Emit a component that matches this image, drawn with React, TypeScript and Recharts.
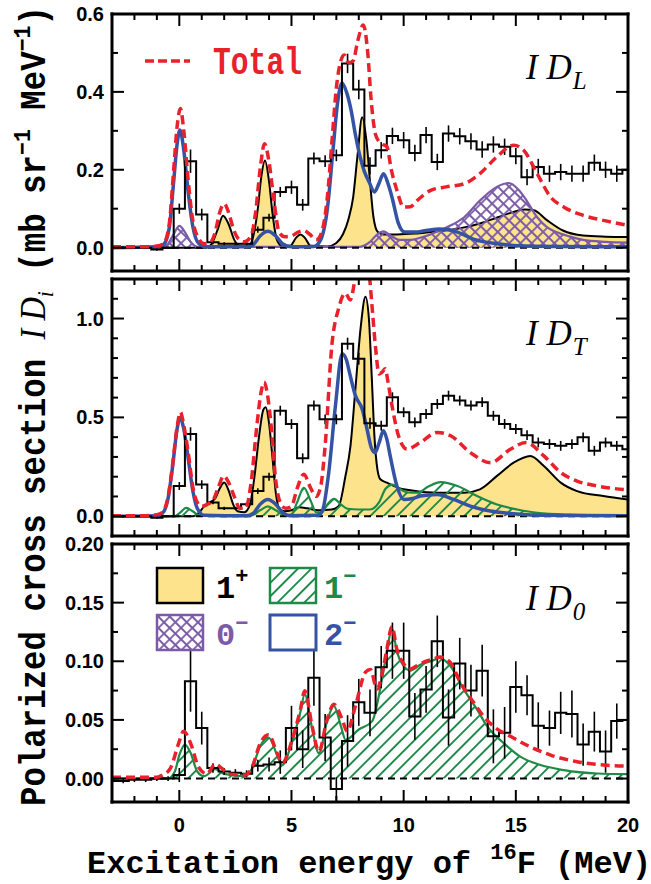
import React from 'react';
import { ComposedChart, Area, Line, XAxis, YAxis, ReferenceLine, ErrorBar } from 'recharts';

type Pair = [number, number];

// ---------- shared categories / ticks ----------
const binE = [-3, -2.5, -2, -1.5, -1, -0.5, 0, 0.5, 1, 1.5, 2, 2.5, 3, 3.5, 4, 4.5, 5, 5.5, 6, 6.5, 7, 7.5, 8, 8.5, 9, 9.5, 10, 10.5, 11, 11.5, 12, 12.5, 13, 13.5, 14, 14.5, 15, 15.5, 16, 16.5, 17, 17.5, 18, 18.5, 19, 19.5, 20];
const xTicks = [-3, -2, -1, 0, 1, 2, 3, 4, 5, 6, 7, 8, 9, 10, 11, 12, 13, 14, 15, 16, 17, 18, 19, 20];
const xMajor = [0, 5, 10, 15, 20];

const p1YTicks = [0, 0.1, 0.2, 0.3, 0.4, 0.5, 0.6];
const p1YMajor = [0, 0.2, 0.4, 0.6];
const p2YTicks = [0, 0.1, 0.2, 0.3, 0.4, 0.5, 0.6, 0.7, 0.8, 0.9, 1.0, 1.1, 1.2];
const p2YMajor = [0, 0.5, 1.0];
const p3YTicks = [0, 0.025, 0.05, 0.075, 0.1, 0.125, 0.15, 0.175, 0.2];
const p3YMajor = [0, 0.05, 0.1, 0.15, 0.2];

// ---------- panel 1 : ID_L ----------
const p1Hist = [0, 0, 0, 0, -0.005, 0, 0.10, 0.222, 0.085, 0.014, 0.01, 0.01, 0.01, 0.046, 0.077, 0.143, 0.155, 0.11, 0.229, 0.222, 0.237, 0.473, 0.406, 0.21, 0.25, 0.287, 0.276, 0.243, 0.289, 0.22, 0.293, 0.286, 0.273, 0.252, 0.265, 0.259, 0.235, 0.181, 0.207, 0.19, 0.194, 0.19, 0.19, 0.218, 0.2, 0.19, 0.2];
const p1Err = [0.003, 0.003, 0.003, 0.003, 0.003, 0.003, 0.013, 0.03, 0.015, 0.005, 0.004, 0.004, 0.004, 0.008, 0.01, 0.013, 0.017, 0.015, 0.015, 0.015, 0.015, 0.025, 0.025, 0.022, 0.021, 0.021, 0.021, 0.021, 0.021, 0.021, 0.021, 0.021, 0.021, 0.021, 0.021, 0.021, 0.021, 0.021, 0.021, 0.021, 0.021, 0.021, 0.021, 0.021, 0.021, 0.021, 0.021];
const p1Total: Pair[] = [[-3, 0.002], [-1.5, 0.002], [-1, 0.004], [-0.7, 0.01], [-0.45, 0.06], [-0.25, 0.2], [-0.1, 0.31], [0.05, 0.357], [0.2, 0.3], [0.4, 0.17], [0.6, 0.07], [0.85, 0.025], [1.1, 0.01], [1.4, 0.015], [1.6, 0.04], [1.8, 0.09], [2.0, 0.113], [2.2, 0.09], [2.4, 0.05], [2.6, 0.025], [2.9, 0.015], [3.2, 0.03], [3.4, 0.09], [3.6, 0.2], [3.8, 0.267], [4.0, 0.22], [4.2, 0.13], [4.45, 0.04], [4.7, 0.028], [5.0, 0.03], [5.3, 0.04], [5.55, 0.044], [5.8, 0.035], [6.1, 0.02], [6.35, 0.04], [6.6, 0.13], [6.8, 0.27], [7.0, 0.41], [7.2, 0.48], [7.35, 0.495], [7.55, 0.475], [7.75, 0.48], [7.95, 0.53], [8.2, 0.572], [8.4, 0.5], [8.55, 0.38], [8.75, 0.29], [9.0, 0.267], [9.25, 0.26], [9.45, 0.2], [9.7, 0.147], [10.0, 0.104], [10.3, 0.105], [10.6, 0.121], [11.2, 0.147], [11.9, 0.156], [12.7, 0.164], [13.4, 0.19], [14.15, 0.233], [14.9, 0.263], [15.35, 0.25], [15.95, 0.19], [16.55, 0.13], [17.15, 0.104], [18.0, 0.083], [18.9, 0.07], [20, 0.057]];
const p1Blue: Pair[] = [[-3, 0], [-1, 0.002], [-0.7, 0.008], [-0.45, 0.05], [-0.25, 0.17], [-0.1, 0.265], [0.03, 0.302], [0.2, 0.25], [0.4, 0.14], [0.6, 0.055], [0.85, 0.012], [1.2, 0.002], [3.0, 0.002], [3.3, 0.008], [3.6, 0.03], [3.95, 0.042], [4.3, 0.03], [4.6, 0.01], [5.0, 0.002], [6.0, 0.003], [6.3, 0.02], [6.6, 0.1], [6.85, 0.25], [7.05, 0.37], [7.25, 0.423], [7.45, 0.4], [7.65, 0.355], [7.85, 0.29], [8.06, 0.233], [8.25, 0.195], [8.45, 0.17], [8.7, 0.143], [8.9, 0.165], [9.1, 0.19], [9.3, 0.165], [9.5, 0.125], [9.75, 0.065], [10.05, 0.04], [10.5, 0.04], [11.0, 0.044], [11.6, 0.048], [12.4, 0.04], [13.1, 0.022], [14.2, 0.01], [15.1, 0.005], [17, 0.003], [20, 0.002]];
const p1Plus: Pair[] = [[-3, 0], [1.2, 0], [1.45, 0.01], [1.7, 0.045], [1.95, 0.082], [2.2, 0.06], [2.45, 0.02], [2.7, 0.005], [3.1, 0.005], [3.3, 0.03], [3.5, 0.1], [3.65, 0.18], [3.82, 0.224], [4.0, 0.17], [4.15, 0.09], [4.35, 0.02], [4.6, 0.003], [4.95, 0.005], [5.2, 0.025], [5.4, 0.034], [5.6, 0.025], [5.85, 0.005], [6.6, 0.003], [7.0, 0.012], [7.3, 0.035], [7.55, 0.075], [7.75, 0.13], [7.95, 0.24], [8.15, 0.335], [8.35, 0.27], [8.5, 0.17], [8.65, 0.08], [8.85, 0.04], [9.1, 0.034], [9.7, 0.034], [10.5, 0.036], [11.2, 0.04], [12.0, 0.045], [12.7, 0.052], [13.4, 0.062], [14.2, 0.078], [14.8, 0.09], [15.4, 0.098], [15.8, 0.096], [16.4, 0.07], [17.1, 0.044], [18.0, 0.031], [19.0, 0.028], [20, 0.027]];
const p1Zero: Pair[] = [[-3, 0], [-0.8, 0], [-0.5, 0.01], [-0.25, 0.035], [0.0, 0.056], [0.25, 0.04], [0.5, 0.015], [0.8, 0.002], [8.0, 0.002], [8.5, 0.015], [8.8, 0.033], [9.1, 0.042], [9.4, 0.032], [9.8, 0.02], [10.3, 0.02], [11.0, 0.03], [11.6, 0.044], [12.2, 0.06], [12.7, 0.078], [13.4, 0.121], [14.15, 0.156], [14.7, 0.166], [15.1, 0.15], [15.4, 0.128], [15.95, 0.078], [16.4, 0.052], [16.9, 0.038], [17.5, 0.027], [18.0, 0.02], [19.0, 0.015], [20, 0.013]];

// ---------- panel 2 : ID_T ----------
const p2Hist = [0, 0, 0, 0, -0.008, 0, 0.153, 0.416, 0.16, 0.07, 0.04, 0.04, 0.06, 0.127, 0.2, 0.534, 0.466, 0.293, 0.56, 0.49, 0.49, 0.873, 0.797, 0.47, 0.458, 0.602, 0.526, 0.475, 0.517, 0.568, 0.61, 0.585, 0.56, 0.577, 0.508, 0.467, 0.441, 0.41, 0.373, 0.365, 0.356, 0.365, 0.399, 0.331, 0.373, 0.356, 0.339];
const p2Err = [0.005, 0.005, 0.005, 0.005, 0.005, 0.005, 0.02, 0.034, 0.022, 0.01, 0.008, 0.008, 0.01, 0.015, 0.02, 0.025, 0.025, 0.025, 0.025, 0.025, 0.025, 0.03, 0.03, 0.028, 0.025, 0.025, 0.025, 0.025, 0.025, 0.025, 0.025, 0.025, 0.025, 0.025, 0.025, 0.025, 0.025, 0.025, 0.025, 0.025, 0.025, 0.025, 0.025, 0.025, 0.025, 0.025, 0.025];
const p2Total: Pair[] = [[-3, 0.003], [-1.5, 0.003], [-1, 0.008], [-0.75, 0.02], [-0.5, 0.1], [-0.3, 0.26], [-0.1, 0.45], [0.05, 0.526], [0.2, 0.46], [0.4, 0.32], [0.6, 0.15], [0.8, 0.07], [1.0, 0.05], [1.25, 0.06], [1.5, 0.08], [1.75, 0.15], [1.98, 0.204], [2.2, 0.17], [2.45, 0.1], [2.7, 0.04], [2.95, 0.04], [3.2, 0.17], [3.45, 0.45], [3.65, 0.63], [3.78, 0.678], [3.95, 0.6], [4.1, 0.45], [4.3, 0.18], [4.5, 0.07], [4.75, 0.04], [5.0, 0.05], [5.25, 0.14], [5.55, 0.212], [5.85, 0.144], [6.1, 0.1], [6.3, 0.15], [6.5, 0.356], [6.8, 0.865], [7.1, 1.05], [7.4, 1.128], [7.62, 1.094], [7.8, 1.18], [8.0, 1.35], [8.25, 1.45], [8.45, 1.25], [8.6, 1.05], [8.75, 0.85], [8.9, 0.72], [9.05, 0.73], [9.18, 0.746], [9.3, 0.68], [9.48, 0.56], [9.77, 0.407], [10.15, 0.34], [10.74, 0.373], [11.5, 0.424], [12.1, 0.407], [12.97, 0.322], [13.87, 0.271], [14.76, 0.339], [15.45, 0.373], [16.25, 0.305], [17.0, 0.221], [17.73, 0.178], [18.63, 0.153], [20, 0.133]];
const p2Blue: Pair[] = [[-3, 0], [-1, 0.003], [-0.75, 0.015], [-0.5, 0.09], [-0.3, 0.25], [-0.1, 0.44], [0.03, 0.5], [0.2, 0.44], [0.4, 0.29], [0.6, 0.13], [0.8, 0.04], [1.1, 0.005], [3.0, 0.002], [3.3, 0.015], [3.6, 0.06], [3.95, 0.085], [4.3, 0.06], [4.6, 0.02], [4.9, 0.003], [6.2, 0.005], [6.4, 0.035], [6.66, 0.22], [6.96, 0.56], [7.26, 0.822], [7.45, 0.79], [7.6, 0.72], [7.85, 0.61], [8.15, 0.543], [8.35, 0.45], [8.55, 0.35], [8.73, 0.322], [8.9, 0.37], [9.1, 0.432], [9.25, 0.39], [9.4, 0.305], [9.7, 0.153], [10.0, 0.085], [10.4, 0.09], [10.74, 0.102], [11.49, 0.11], [12.23, 0.085], [12.97, 0.051], [13.87, 0.026], [14.9, 0.012], [15.95, 0.005], [20, 0.002]];
const p2Plus: Pair[] = [[-3, 0], [0.6, 0], [0.9, 0.02], [1.1, 0.05], [1.35, 0.07], [1.6, 0.09], [1.8, 0.14], [2.0, 0.17], [2.2, 0.13], [2.4, 0.06], [2.6, 0.025], [2.9, 0.02], [3.15, 0.06], [3.35, 0.2], [3.55, 0.4], [3.75, 0.54], [3.85, 0.551], [4.0, 0.47], [4.15, 0.3], [4.3, 0.12], [4.45, 0.04], [4.7, 0.025], [5.0, 0.03], [5.35, 0.045], [5.7, 0.04], [6.2, 0.03], [6.8, 0.034], [7.1, 0.05], [7.4, 0.2], [7.63, 0.356], [7.85, 0.644], [8.08, 0.95], [8.3, 1.11], [8.45, 1.0], [8.58, 0.7], [8.7, 0.4], [8.83, 0.237], [8.96, 0.187], [9.25, 0.17], [10.0, 0.136], [11.5, 0.119], [12.7, 0.119], [13.4, 0.136], [14.16, 0.204], [14.9, 0.271], [15.65, 0.305], [16.25, 0.254], [17.0, 0.17], [17.73, 0.127], [18.9, 0.102], [20, 0.085]];
const p2Minus: Pair[] = [[-3, 0], [-0.2, 0], [0.05, 0.02], [0.3, 0.042], [0.6, 0.025], [0.9, 0.003], [3.2, 0.003], [3.6, 0.03], [3.95, 0.05], [4.3, 0.03], [4.7, 0.005], [5.0, 0.01], [5.25, 0.07], [5.55, 0.144], [5.85, 0.08], [6.1, 0.02], [6.35, 0.02], [6.6, 0.06], [6.9, 0.088], [7.2, 0.06], [7.5, 0.038], [8.0, 0.034], [8.5, 0.034], [8.9, 0.07], [9.2, 0.14], [9.5, 0.16], [9.8, 0.14], [10.2, 0.12], [10.6, 0.119], [11.1, 0.15], [11.65, 0.173], [12.4, 0.153], [13.27, 0.102], [14.16, 0.059], [15.06, 0.034], [15.95, 0.017], [17.44, 0.008], [20, 0.003]];

// ---------- panel 3 : ID_0 ----------
const p3Hist = [-0.002, -0.002, -0.001, -0.001, 0, 0, 0.003, 0.083, 0.043, 0.009, 0.006, 0.005, 0.004, 0.011, 0.012, 0.014, 0.043, 0.025, 0.086, 0.035, -0.009, 0.032, 0.065, 0.056, 0.095, 0.109, 0.109, 0.053, 0.076, 0.117, 0.052, 0.098, 0.075, 0.092, 0.036, 0.039, 0.078, 0.071, 0.045, 0.043, 0.056, 0.055, 0.029, 0.04, 0.023, 0.049, 0.05];
const p3Err = [0.002, 0.002, 0.002, 0.002, 0.002, 0.002, 0.006, 0.026, 0.014, 0.004, 0.003, 0.003, 0.003, 0.005, 0.006, 0.01, 0.019, 0.016, 0.024, 0.02, 0.01, 0.022, 0.02, 0.02, 0.018, 0.024, 0.024, 0.02, 0.02, 0.022, 0.024, 0.022, 0.022, 0.022, 0.023, 0.022, 0.022, 0.017, 0.02, 0.015, 0.018, 0.02, 0.018, 0.017, 0.018, 0.015, 0.015];
const p3Total: Pair[] = [[-3, 0.001], [-1, 0.001], [-0.75, 0.003], [-0.4, 0.0086], [-0.03, 0.03], [0.19, 0.0403], [0.4, 0.035], [0.56, 0.027], [0.86, 0.0096], [1.23, 0.004], [1.6, 0.0124], [1.9, 0.0086], [2.2, 0.004], [2.94, 0.003], [3.24, 0.0096], [3.61, 0.0302], [3.98, 0.0374], [4.36, 0.0216], [4.58, 0.013], [5.03, 0.033], [5.4, 0.059], [5.59, 0.0748], [5.92, 0.0446], [6.22, 0.023], [6.59, 0.0504], [6.89, 0.0633], [7.26, 0.0504], [7.48, 0.0403], [7.85, 0.0619], [8.3, 0.0907], [8.52, 0.093], [8.81, 0.0763], [9.1, 0.095], [9.25, 0.11], [9.48, 0.1295], [9.7, 0.11], [10.0, 0.0979], [10.29, 0.0935], [10.74, 0.098], [11.34, 0.102], [11.63, 0.1036], [12.08, 0.099], [12.53, 0.082], [13.12, 0.0648], [13.57, 0.053], [14.0, 0.0446], [14.76, 0.036], [15.65, 0.027], [16.55, 0.02], [17.73, 0.0144], [18.93, 0.0115], [20, 0.0107]];
const p3Minus: Pair[] = [[-3, 0], [-0.5, 0], [-0.2, 0.006], [0.0, 0.02], [0.25, 0.029], [0.5, 0.022], [0.8, 0.006], [1.1, 0.002], [1.6, 0.008], [2.0, 0.004], [2.9, 0.002], [3.24, 0.0085], [3.61, 0.028], [3.98, 0.035], [4.36, 0.02], [4.58, 0.0115], [5.03, 0.0317], [5.4, 0.057], [5.59, 0.072], [5.92, 0.043], [6.22, 0.0216], [6.59, 0.049], [6.89, 0.0619], [7.2, 0.045], [7.41, 0.0331], [8.0, 0.0418], [8.6, 0.049], [8.95, 0.076], [9.25, 0.108], [9.48, 0.128], [9.7, 0.108], [10.0, 0.096], [10.29, 0.092], [10.74, 0.097], [11.34, 0.101], [11.6, 0.1028], [12.08, 0.096], [12.68, 0.076], [13.27, 0.059], [13.72, 0.0446], [14.46, 0.0302], [15.2, 0.0187], [16.1, 0.0115], [17.14, 0.0072], [18.63, 0.0043], [20, 0.0037]];

// ---------- legend ----------
const legendLabels = ['1', '1', '0', '2'];
const legendSups = ['+', '\u2212', '\u2212', '\u2212'];

// ---------- styling ----------
const COL = { red: '#e8212b', blue: '#3553a4', green: '#1e8a48', purple: '#7b5ba8', yellow: '#fde38c', black: '#000000' };
const MONO = "'Liberation Mono', 'DejaVu Sans Mono', monospace";
const SANS = "'Liberation Sans', Arial, sans-serif";
const SERIF = "'Liberation Serif', 'Times New Roman', serif";
const PLOT_LEFT = 112;
const W = 651;

const pts = (a: Pair[]) => a.map(([x, y]) => ({ x, y }));
const hist = (v: number[], e: number[]) => binE.map((x, i) => ({ x, y: v[i], err: e[i] }));
const isIn = (arr: number[], v: number) => arr.some((m) => Math.abs(m - v) < 1e-9);

const frameLine = { stroke: '#000', strokeWidth: 3, strokeLinecap: 'square' as const };

function YTick(props: any) {
  const { x, y, payload, side, majors, digits } = props;
  const v = payload.value;
  const maj = isIn(majors, v);
  const len = maj ? 12 : 6;
  if (side === 'left') {
    const edge = x + 8;
    return (
      <g>
        <line x1={edge} x2={edge + len} y1={y} y2={y} stroke="#000" strokeWidth={2} />
        {maj && (
          <text x={x} y={y} dy={7} textAnchor="end" fill="#000" fontFamily={SANS} fontWeight="bold" fontSize={20}>
            {v.toFixed(digits)}
          </text>
        )}
      </g>
    );
  }
  return <line x1={x} x2={x - len} y1={y} y2={y} stroke="#000" strokeWidth={2} />;
}

function XTick(props: any) {
  const { x, y, payload, dir, labels } = props;
  const v = payload.value;
  const maj = isIn(xMajor, v);
  const len = maj ? 12 : 6;
  const y2 = dir === 'up' ? y - len : y + len;
  return (
    <g>
      <line x1={x} x2={x} y1={y} y2={y2} stroke="#000" strokeWidth={2} />
      {labels && maj && (
        <text x={x} y={y + 30} textAnchor="middle" fill="#000" fontFamily={SANS} fontWeight="bold" fontSize={20}>
          {String(v)}
        </text>
      )}
    </g>
  );
}

type PanelProps = {
  top: number; h: number; mt: number; mb: number; xh: number;
  yDomain: [number, number]; yTicks: number[]; yMajor: number[]; digits: number; xLabels: boolean;
  children: React.ReactNode;
};

function Panel(p: PanelProps) {
  return (
    <div style={{ position: 'absolute', left: 0, top: p.top, width: W, height: p.h }}>
      <ComposedChart width={W} height={p.h} margin={{ top: p.mt, right: 22, bottom: p.mb, left: 0 }}>
        <XAxis xAxisId="b" type="number" dataKey="x" domain={[-3, 20]} allowDataOverflow ticks={xTicks} interval={0}
          height={p.xh} tickSize={0} tickMargin={0} tickLine={false} axisLine={frameLine}
          tick={(t: any) => <XTick {...t} dir="up" labels={p.xLabels} />} />
        <XAxis xAxisId="t" orientation="top" type="number" dataKey="x" domain={[-3, 20]} allowDataOverflow ticks={xTicks} interval={0}
          height={1} tickSize={0} tickMargin={0} tickLine={false} axisLine={frameLine}
          tick={(t: any) => <XTick {...t} dir="down" labels={false} />} />
        <YAxis yAxisId="l" type="number" domain={p.yDomain} allowDataOverflow ticks={p.yTicks} interval={0}
          width={PLOT_LEFT} tickSize={0} tickMargin={8} tickLine={false} axisLine={frameLine}
          tick={(t: any) => <YTick {...t} side="left" majors={p.yMajor} digits={p.digits} />} />
        <YAxis yAxisId="r" orientation="right" type="number" domain={p.yDomain} allowDataOverflow ticks={p.yTicks} interval={0}
          width={1} tickSize={0} tickMargin={0} tickLine={false} axisLine={frameLine}
          tick={(t: any) => <YTick {...t} side="right" majors={p.yMajor} digits={p.digits} />} />
        {p.children}
      </ComposedChart>
    </div>
  );
}

const areaProps = { xAxisId: 'b', yAxisId: 'l', type: 'monotone' as const, dataKey: 'y', isAnimationActive: false, dot: false, activeDot: false, baseValue: 0 };
const lineProps = { xAxisId: 'b', yAxisId: 'l', type: 'monotone' as const, dataKey: 'y', isAnimationActive: false, dot: false, activeDot: false };

const histLine = (rows: any[], key: string) => (
  <Line key={key} {...lineProps} type="step" data={rows} stroke="#000" strokeWidth={2}>
    <ErrorBar dataKey="err" direction="y" width={0} stroke="#000" strokeWidth={1.6} isAnimationActive={false} />
  </Line>
);

const zeroLine = (key: string) => (
  <ReferenceLine key={key} xAxisId="b" yAxisId="l" y={0} stroke="#000" strokeWidth={2} strokeDasharray="7 5" />
);

function PanelLabel({ base, sub }: { base: number; sub: string }) {
  return (
    <text x={526} y={base} fontFamily={SERIF} fontStyle="italic" fontSize={35} fill="#000">
      I D<tspan fontSize={25} dx={1} dy={10}>{sub}</tspan>
    </text>
  );
}

export default function App() {
  const legendFill = [COL.yellow, 'url(#hatchG)', 'url(#xhatchP)', '#ffffff'];
  const legendStroke = [COL.black, COL.green, COL.purple, COL.blue];
  const legendText = [COL.black, COL.green, COL.purple, COL.blue];
  return (
    <div style={{ position: 'absolute', left: 0, top: 0, width: W, height: 884, background: '#fff' }}>
      <svg width={0} height={0} style={{ position: 'absolute' }}>
        <defs>
          <pattern id="hatchG" patternUnits="userSpaceOnUse" width={9.5} height={9.5} patternTransform="rotate(45)">
            <line x1={4.75} y1={0} x2={4.75} y2={9.5} stroke={COL.green} strokeWidth={1.9} />
          </pattern>
          <pattern id="xhatchP" patternUnits="userSpaceOnUse" width={8} height={8} patternTransform="rotate(45)">
            <path d="M4 0V8M0 4H8" stroke={COL.purple} strokeWidth={1.8} fill="none" />
          </pattern>
        </defs>
      </svg>

      <Panel top={0} h={275} mt={13} mb={3} xh={1} yDomain={[-0.06, 0.6]} yTicks={p1YTicks} yMajor={p1YMajor} digits={1} xLabels={false}>
        <Area {...areaProps} data={pts(p1Plus)} fill={COL.yellow} fillOpacity={1} stroke="#000" strokeWidth={2} />
        <Area {...areaProps} data={pts(p1Zero)} fill="url(#xhatchP)" fillOpacity={1} stroke={COL.purple} strokeWidth={2.2} />
        {zeroLine('z1')}
        <Line {...lineProps} data={pts(p1Blue)} stroke={COL.blue} strokeWidth={3.5} />
        {histLine(hist(p1Hist, p1Err), 'h1')}
        <Line {...lineProps} data={pts(p1Total)} stroke={COL.red} strokeWidth={3.5} strokeDasharray="9 5" />
      </Panel>

      <Panel top={275} h={265} mt={3} mb={3} xh={1} yDomain={[-0.1, 1.2]} yTicks={p2YTicks} yMajor={p2YMajor} digits={1} xLabels={false}>
        <Area {...areaProps} data={pts(p2Plus)} fill={COL.yellow} fillOpacity={1} stroke="#000" strokeWidth={2} />
        <Area {...areaProps} data={pts(p2Minus)} fill="url(#hatchG)" fillOpacity={1} stroke={COL.green} strokeWidth={2.2} />
        {zeroLine('z2')}
        <Line {...lineProps} data={pts(p2Blue)} stroke={COL.blue} strokeWidth={3.5} />
        {histLine(hist(p2Hist, p2Err), 'h2')}
        <Line {...lineProps} data={pts(p2Total)} stroke={COL.red} strokeWidth={3.5} strokeDasharray="9 5" />
      </Panel>

      <Panel top={530} h={354} mt={13} mb={42} xh={40} yDomain={[-0.02, 0.2]} yTicks={p3YTicks} yMajor={p3YMajor} digits={2} xLabels={true}>
        <Area {...areaProps} data={pts(p3Minus)} fill="url(#hatchG)" fillOpacity={1} stroke={COL.green} strokeWidth={2.2} />
        {zeroLine('z3')}
        {histLine(hist(p3Hist, p3Err), 'h3')}
        <Line {...lineProps} data={pts(p3Total)} stroke={COL.red} strokeWidth={3.5} strokeDasharray="9 5" />
      </Panel>

      <svg width={W} height={884} style={{ position: 'absolute', left: 0, top: 0, pointerEvents: 'none' }}>
        <line x1={145} x2={190} y1={61} y2={61} stroke={COL.red} strokeWidth={3.5} strokeDasharray="9 4" />
        <text x={213} y={74} fontFamily={MONO} fontWeight="bold" fontSize={38} fill={COL.red} textLength={89} lengthAdjust="spacingAndGlyphs">Total</text>

        <PanelLabel base={79} sub="L" />
        <PanelLabel base={345} sub="T" />
        <PanelLabel base={610} sub="0" />

        {legendLabels.map((lab, i) => {
          const col = i % 2;
          const row = Math.floor(i / 2);
          const bx = col === 0 ? 157 : 270;
          const by = row === 0 ? 568 : 615;
          const tx = col === 0 ? 216 : 324;
          return (
            <g key={'lg' + i}>
              <rect x={bx} y={by} width={46} height={35} fill={legendFill[i]} stroke={legendStroke[i]} strokeWidth={i === 3 ? 3 : 2.5} />
              <text x={tx} y={by + 30} fontFamily={MONO} fontWeight="bold" fontSize={32} fill={legendText[i]}>
                {lab}<tspan fontSize={22} dy={-15}>{legendSups[i]}</tspan>
              </text>
            </g>
          );
        })}

        <text x={87} y={873} fontFamily={MONO} fontWeight="bold" fontSize={32} fill="#000">
          Excitation energy of <tspan fontSize={22} dy={-14}>16</tspan><tspan dy={14}>F (MeV)</tspan>
        </text>
        <text x={0} y={0} transform="translate(45, 406) rotate(-90)" textAnchor="middle" fontFamily={MONO} fontWeight="bold" fontSize={36} fill="#000" textLength={800} lengthAdjust="spacingAndGlyphs">
          Polarized cross section <tspan fontFamily={SERIF} fontStyle="italic" fontWeight="normal">I D</tspan><tspan fontFamily={SERIF} fontStyle="italic" fontWeight="normal" fontSize={24} dy={8}>i</tspan><tspan dy={-8}> (mb sr</tspan><tspan fontSize={24} dy={-15}>{'\u22121'}</tspan><tspan dy={15}> MeV</tspan><tspan fontSize={24} dy={-15}>{'\u22121'}</tspan><tspan dy={15}>)</tspan>
        </text>
      </svg>
    </div>
  );
}
